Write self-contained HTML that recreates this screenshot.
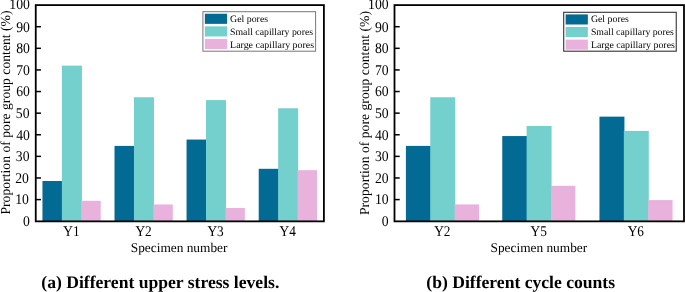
<!DOCTYPE html>
<html><head><meta charset="utf-8"><title>Pore group content</title>
<style>
html,body{margin:0;padding:0;background:#fff;}
body{width:685px;height:292px;overflow:hidden;font-family:"Liberation Serif",serif;}
svg{display:block;will-change:transform;}
svg text{font-family:"Liberation Serif",serif;fill:#000;text-rendering:geometricPrecision;}
</style></head>
<body>
<svg width="685" height="292" viewBox="0 0 685 292">
<rect width="685" height="292" fill="#fff"/>
<rect x="42.45" y="181.00" width="20.03" height="40.20" fill="#026A93"/>
<rect x="61.88" y="65.65" width="20.03" height="155.55" fill="#74D0CC"/>
<rect x="81.31" y="200.80" width="19.43" height="20.40" fill="#E8B2DC"/>
<text transform="translate(71.50,235.6) scale(0.965,1.07)" text-anchor="middle" font-size="13.8">Y1</text>
<rect x="114.51" y="145.90" width="20.03" height="75.30" fill="#026A93"/>
<rect x="133.94" y="97.25" width="20.03" height="123.95" fill="#74D0CC"/>
<rect x="153.37" y="204.45" width="19.43" height="16.75" fill="#E8B2DC"/>
<text transform="translate(143.55,235.6) scale(0.965,1.07)" text-anchor="middle" font-size="13.8">Y2</text>
<rect x="186.55" y="139.55" width="20.03" height="81.65" fill="#026A93"/>
<rect x="205.98" y="100.10" width="20.03" height="121.10" fill="#74D0CC"/>
<rect x="225.41" y="207.95" width="19.43" height="13.25" fill="#E8B2DC"/>
<text transform="translate(215.60,235.6) scale(0.965,1.07)" text-anchor="middle" font-size="13.8">Y3</text>
<rect x="258.71" y="168.80" width="20.03" height="52.40" fill="#026A93"/>
<rect x="278.14" y="108.25" width="20.03" height="112.95" fill="#74D0CC"/>
<rect x="297.57" y="170.15" width="19.43" height="51.05" fill="#E8B2DC"/>
<text transform="translate(287.75,235.6) scale(0.965,1.07)" text-anchor="middle" font-size="13.8">Y4</text>
<text transform="translate(29.85,225.70) scale(0.98,1.06)" text-anchor="end" font-size="14">0</text>
<line x1="35.75" y1="199.59" x2="40.95" y2="199.59" stroke="#000" stroke-width="1.5"/>
<text transform="translate(28.95,204.39) scale(0.98,1.06)" text-anchor="end" font-size="14">10</text>
<line x1="35.75" y1="177.98" x2="40.95" y2="177.98" stroke="#000" stroke-width="1.5"/>
<text transform="translate(28.95,182.78) scale(0.98,1.06)" text-anchor="end" font-size="14">20</text>
<line x1="35.75" y1="156.37" x2="40.95" y2="156.37" stroke="#000" stroke-width="1.5"/>
<text transform="translate(29.55,161.17) scale(0.98,1.06)" text-anchor="end" font-size="14">30</text>
<line x1="35.75" y1="134.76" x2="40.95" y2="134.76" stroke="#000" stroke-width="1.5"/>
<text transform="translate(29.85,139.56) scale(0.98,1.06)" text-anchor="end" font-size="14">40</text>
<line x1="35.75" y1="113.15" x2="40.95" y2="113.15" stroke="#000" stroke-width="1.5"/>
<text transform="translate(29.55,117.95) scale(0.98,1.06)" text-anchor="end" font-size="14">50</text>
<line x1="35.75" y1="91.54" x2="40.95" y2="91.54" stroke="#000" stroke-width="1.5"/>
<text transform="translate(29.85,96.34) scale(0.98,1.06)" text-anchor="end" font-size="14">60</text>
<line x1="35.75" y1="69.93" x2="40.95" y2="69.93" stroke="#000" stroke-width="1.5"/>
<text transform="translate(29.85,74.73) scale(0.98,1.06)" text-anchor="end" font-size="14">70</text>
<line x1="35.75" y1="48.32" x2="40.95" y2="48.32" stroke="#000" stroke-width="1.5"/>
<text transform="translate(29.85,53.12) scale(0.98,1.06)" text-anchor="end" font-size="14">80</text>
<line x1="35.75" y1="26.71" x2="40.95" y2="26.71" stroke="#000" stroke-width="1.5"/>
<text transform="translate(29.85,31.51) scale(0.98,1.06)" text-anchor="end" font-size="14">90</text>
<text transform="translate(29.85,9.30) scale(0.98,1.06)" text-anchor="end" font-size="14">100</text>
<rect x="35.75" y="5.1" width="288.15" height="216.25" fill="none" stroke="#000" stroke-width="1.8"/>
<text x="179.1" y="251.95" text-anchor="middle" font-size="13.35">Specimen number</text>
<text transform="translate(10.4,112.5) rotate(-90)" text-anchor="middle" font-size="13.7">Proportion of pore group content (%)</text>
<rect x="202.9" y="11.7" width="112.70" height="39.50" fill="#fff" stroke="#777" stroke-width="1.0"/>
<rect x="204.85" y="13.75" width="22.2" height="10.1" fill="#026A93"/>
<text x="230.10" y="21.90" font-size="9.8" textLength="38.0" lengthAdjust="spacingAndGlyphs">Gel pores</text>
<rect x="204.85" y="26.35" width="22.2" height="10.1" fill="#74D0CC"/>
<text x="230.10" y="34.70" font-size="9.8" textLength="83.0" lengthAdjust="spacingAndGlyphs">Small capillary pores</text>
<rect x="204.85" y="38.95" width="22.2" height="10.1" fill="#E8B2DC"/>
<text x="230.10" y="47.50" font-size="9.8" textLength="84.0" lengthAdjust="spacingAndGlyphs">Large capillary pores</text>
<text x="160.3" y="287.7" text-anchor="middle" font-size="17.6" font-weight="bold">(a) Different upper stress levels.</text>
<rect x="405.89" y="145.90" width="24.97" height="75.30" fill="#026A93"/>
<rect x="430.26" y="97.25" width="24.97" height="123.95" fill="#74D0CC"/>
<rect x="454.63" y="204.40" width="24.37" height="16.80" fill="#E8B2DC"/>
<text transform="translate(442.35,235.6) scale(0.965,1.07)" text-anchor="middle" font-size="13.8">Y2</text>
<rect x="502.24" y="136.05" width="24.97" height="85.15" fill="#026A93"/>
<rect x="526.61" y="125.95" width="24.97" height="95.25" fill="#74D0CC"/>
<rect x="550.98" y="185.80" width="24.37" height="35.40" fill="#E8B2DC"/>
<text transform="translate(538.70,235.6) scale(0.965,1.07)" text-anchor="middle" font-size="13.8">Y5</text>
<rect x="599.45" y="116.65" width="24.97" height="104.55" fill="#026A93"/>
<rect x="623.82" y="130.90" width="24.97" height="90.30" fill="#74D0CC"/>
<rect x="648.19" y="200.10" width="24.37" height="21.10" fill="#E8B2DC"/>
<text transform="translate(635.90,235.6) scale(0.965,1.07)" text-anchor="middle" font-size="13.8">Y6</text>
<text transform="translate(388.60,225.70) scale(0.98,1.06)" text-anchor="end" font-size="14">0</text>
<line x1="394.5" y1="199.59" x2="399.7" y2="199.59" stroke="#000" stroke-width="1.5"/>
<text transform="translate(388.60,204.39) scale(0.98,1.06)" text-anchor="end" font-size="14">10</text>
<line x1="394.5" y1="177.98" x2="399.7" y2="177.98" stroke="#000" stroke-width="1.5"/>
<text transform="translate(388.60,182.78) scale(0.98,1.06)" text-anchor="end" font-size="14">20</text>
<line x1="394.5" y1="156.37" x2="399.7" y2="156.37" stroke="#000" stroke-width="1.5"/>
<text transform="translate(388.60,161.17) scale(0.98,1.06)" text-anchor="end" font-size="14">30</text>
<line x1="394.5" y1="134.76" x2="399.7" y2="134.76" stroke="#000" stroke-width="1.5"/>
<text transform="translate(388.60,139.56) scale(0.98,1.06)" text-anchor="end" font-size="14">40</text>
<line x1="394.5" y1="113.15" x2="399.7" y2="113.15" stroke="#000" stroke-width="1.5"/>
<text transform="translate(388.60,117.95) scale(0.98,1.06)" text-anchor="end" font-size="14">50</text>
<line x1="394.5" y1="91.54" x2="399.7" y2="91.54" stroke="#000" stroke-width="1.5"/>
<text transform="translate(388.60,96.34) scale(0.98,1.06)" text-anchor="end" font-size="14">60</text>
<line x1="394.5" y1="69.93" x2="399.7" y2="69.93" stroke="#000" stroke-width="1.5"/>
<text transform="translate(388.60,74.73) scale(0.98,1.06)" text-anchor="end" font-size="14">70</text>
<line x1="394.5" y1="48.32" x2="399.7" y2="48.32" stroke="#000" stroke-width="1.5"/>
<text transform="translate(388.60,53.12) scale(0.98,1.06)" text-anchor="end" font-size="14">80</text>
<line x1="394.5" y1="26.71" x2="399.7" y2="26.71" stroke="#000" stroke-width="1.5"/>
<text transform="translate(388.60,31.51) scale(0.98,1.06)" text-anchor="end" font-size="14">90</text>
<text transform="translate(388.60,9.30) scale(0.98,1.06)" text-anchor="end" font-size="14">100</text>
<rect x="394.5" y="5.1" width="289.50" height="216.25" fill="none" stroke="#000" stroke-width="1.8"/>
<text x="538.85" y="251.8" text-anchor="middle" font-size="13.35">Specimen number</text>
<text transform="translate(368.7,113.0) rotate(-90)" text-anchor="middle" font-size="13.7">Proportion of pore group content (%)</text>
<rect x="563.7" y="12.3" width="112.55" height="38.90" fill="#fff" stroke="#333" stroke-width="1.1"/>
<rect x="565.65" y="14.40" width="22.2" height="10.1" fill="#026A93"/>
<text x="590.90" y="22.30" font-size="9.8" textLength="38.0" lengthAdjust="spacingAndGlyphs">Gel pores</text>
<rect x="565.65" y="27.00" width="22.2" height="10.1" fill="#74D0CC"/>
<text x="590.90" y="35.10" font-size="9.8" textLength="83.0" lengthAdjust="spacingAndGlyphs">Small capillary pores</text>
<rect x="565.65" y="39.60" width="22.2" height="10.1" fill="#E8B2DC"/>
<text x="590.90" y="47.90" font-size="9.8" textLength="84.0" lengthAdjust="spacingAndGlyphs">Large capillary pores</text>
<text x="520.7" y="287.7" text-anchor="middle" font-size="17.6" font-weight="bold">(b) Different cycle counts</text>
</svg>
</body></html>
